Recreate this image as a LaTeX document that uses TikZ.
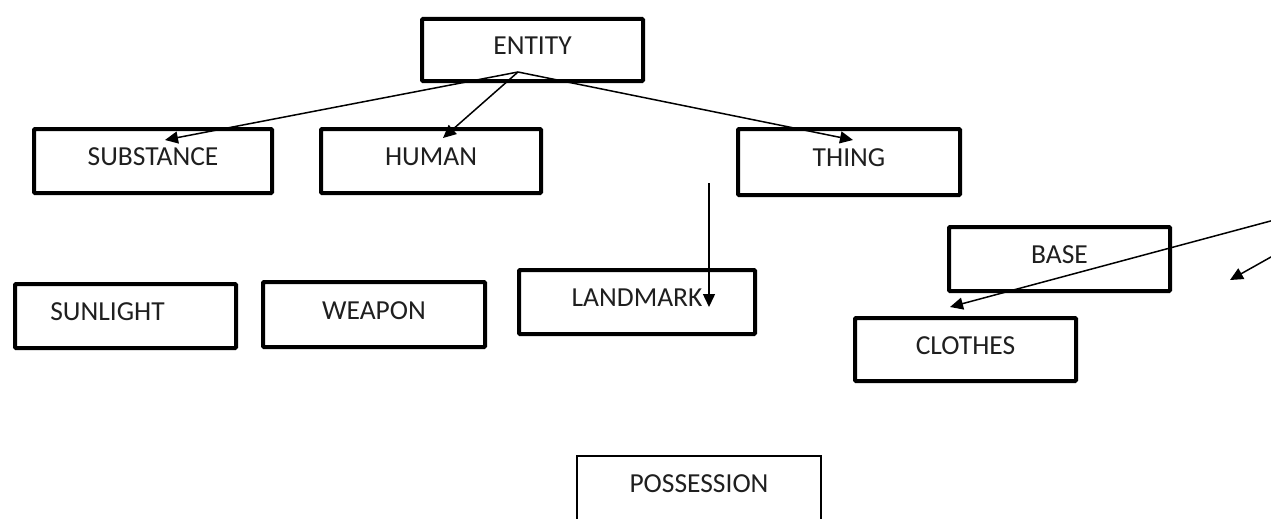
\documentclass[tikz,border=0pt]{standalone}
\usepackage{fontspec}
\setmainfont{Carlito}
\usetikzlibrary{arrows.meta}
\begin{document}
\begin{tikzpicture}[x=1pt,y=-1pt,
  box/.style={draw=black, line width=4pt, rectangle, rounded corners=1pt,
    minimum width=221pt, minimum height=64pt, inner sep=0pt,
    text=black!88, font=\fontsize{27.5pt}{31pt}\selectfont,
    text height=19pt, text depth=10pt},
  thinbox/.style={box, line width=2pt, rounded corners=0pt, text height=19pt, text depth=19pt},
  conn/.style={line width=1.5pt, -{Triangle[length=13pt,width=12pt]}}]
\useasboundingbox (0,0) rectangle (1271,519);
\clip (0,0) rectangle (1271,519);
\fill[white] (0,0) rectangle (1271,519);

\node[box, minimum width=221pt, minimum height=62pt] (entity) at (532.5,50) {ENTITY};
\node[box, minimum width=238pt] (substance) at (153,161) {SUBSTANCE};
\node[box, minimum width=220pt] (human) at (431,161) {HUMAN};
\node[box, minimum width=222pt, minimum height=66pt] (thing) at (849,162) {THING};
\node[box] (sunlight) at (125.5,316) {SUNLIGHT\kern36pt};
\node[box, minimum width=222pt, minimum height=65pt] (weapon) at (374,314.5) {WEAPON};
\node[box, minimum width=236pt] (landmark) at (637,302) {LANDMARK};
\node[box] (base) at (1059.5,259) {BASE};
\node[box, minimum height=63pt] (clothes) at (965.5,349.5) {CLOTHES};
\node[thinbox, minimum width=244pt, minimum height=72pt] (possession) at (699,492) {POSSESSION};

\coordinate (apex) at (518,72);
\coordinate (subTip) at (165,140);
\coordinate (humTip) at (443,138);
\coordinate (thingTip) at (853,140);
\coordinate (lmStart) at (709,183);
\coordinate (lmTip) at (709,307);
\coordinate (clStart) at (1290,215.8);
\coordinate (clTip) at (950,307);
\coordinate (rStart) at (1290,246.3);
\coordinate (rTip) at (1230,280);

\draw[conn] (apex) -- (subTip);
\draw[conn] (apex) -- (humTip);
\draw[conn] (apex) -- (thingTip);
\draw[conn] (lmStart) -- (lmTip);
\draw[conn] (clStart) -- (clTip);
\draw[conn] (rStart) -- (rTip);
\end{tikzpicture}
\end{document}
